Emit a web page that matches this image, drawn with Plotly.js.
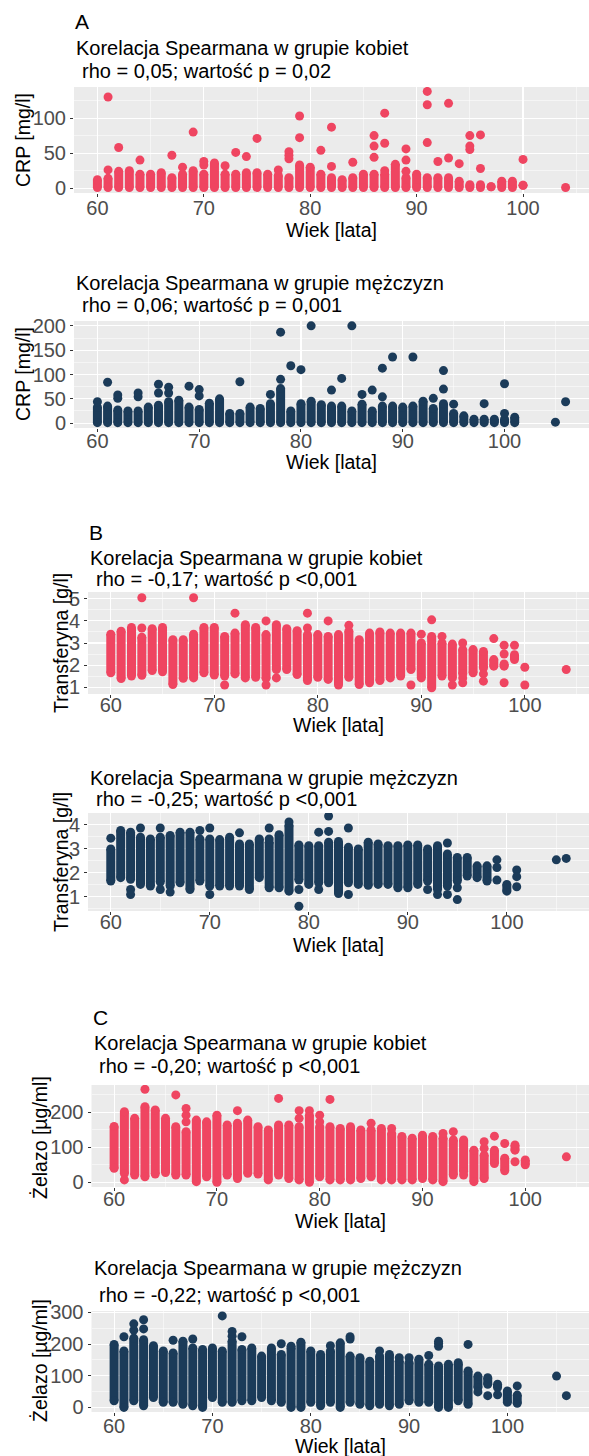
<!DOCTYPE html>
<html><head><meta charset="utf-8">
<script src="https://cdn.plot.ly/plotly-3.0.1.min.js"></script>
<style>html,body{margin:0;padding:0;background:#fff;}#chart{width:589px;height:1456px;}</style>
</head><body><div id="chart"></div>
<script>
// ---------- DATA ----------
// A: CRP [mg/l], women
const crpW_colAge = [60,61,62,63,64,65,66,67,68,69,70,71,72,73,74,75,76,77,78,79,80,81,82,83,84,85,86,87,88,89,90,91,92,93,94,95,96,97,98,99,100];
const crpW_colLo  = [1,1,1,1,1,1,1,1,1,1,1,1,1,1,1,1,1,1,1,1,1,1,1,1,1,1,1,1,1,1,1,1,1,1,1,1,1,2,1,1,4];
const crpW_colHi  = [12,14,24,25,20,20,22,15,20,25,20,36,20,20,22,22,20,18,15,33,30,20,15,12,15,20,20,20,34,15,20,15,15,15,10,5,5,2,10,10,4];
const crpW_ptAge  = [61,61,62,64,67,68,69,70,70,72,73,74,75,77,78,78,78,79,79,81,82,82,84,86,86,86,87,87,87,89,89,89,91,91,91,92,93,93,94,95,95,95,96,96,100,104];
const crpW_ptVal  = [26,130,58,40,47,30,80,33,38,32,51,45,71,26,42,47,52,72,103,54,31,87,37,44,60,75,25,64,107,24,40,56,65,119,138,38,43,121,35,55,60,75,28,76,41,1];
// A: CRP [mg/l], men
const crpM_colAge = [60,61,62,63,64,65,66,67,68,69,70,71,72,73,74,75,76,77,78,79,80,81,82,83,84,85,86,87,88,89,90,91,92,93,94,95,96,97,98,99,100,101];
const crpM_colLo  = [1,1,1,1,1,1,1,1,1,1,1,1,1,1,1,1,1,1,1,1,1,1,1,1,1,1,1,1,1,1,1,1,1,1,1,1,1,1,1,1,1,1];
const crpM_colHi  = [33,35,27,25,25,33,37,44,47,33,28,41,50,20,20,33,30,40,71,25,40,45,38,35,35,25,39,25,35,35,33,35,45,30,40,20,15,8,8,8,8,12];
const crpM_ptAge  = [60,61,62,62,64,64,66,66,67,67,69,70,70,74,77,78,78,79,80,81,83,84,85,86,87,88,88,89,91,93,94,94,95,98,100,100,105,106];
const crpM_ptVal  = [44,84,51,58,54,62,62,80,62,74,76,56,69,85,59,90,187,118,110,200,68,92,200,59,68,54,113,136,136,51,70,108,39,40,20,81,2,44];
// B: Transferyna [g/l], women
const trfW_colAge = [60,61,62,63,64,65,66,67,68,69,70,71,72,73,74,75,76,77,78,79,80,81,82,83,84,85,86,87,88,89,90,91,92,93,94,95,96,97,98,99];
const trfW_colLo  = [1.65,1.39,1.5,1.54,1.75,1.7,1.12,1.4,1.42,1.65,1.55,1.5,1.6,1.42,1.45,1.4,1.8,1.8,1.57,1.3,1.45,1.35,1.1,1.45,1.12,1.2,1.3,1.42,1.5,1.8,1.42,0.97,1.5,1.42,1.6,1.65,1.87,1.95,1.95,2.25];
const trfW_colHi  = [3.4,3.53,3.7,3.26,3.65,3.7,3.15,3.15,3.4,3.7,3.7,3.3,3.45,3.83,3.7,3.38,3.83,3.65,3.56,3.38,3.38,3.3,3.38,3.53,3.15,3.45,3.45,3.45,3.45,3.45,3.0,3.3,3.0,2.95,2.7,2.7,2.62,2.25,2.05,2.47];
const trfW_ptAge  = [63,63,68,71,72,75,75,76,79,79,81,83,86,89,90,91,92,93,94,94,94,96,96,97,98,98,98,99,100,100,104];
const trfW_ptVal  = [3.68,5.05,5.05,1.1,4.35,4.0,1.1,1.42,3.68,4.35,4.0,3.8,3.5,1.1,3.4,4.05,3.3,1.1,3.0,1.42,1.2,1.6,1.27,3.2,2.9,2.5,1.2,2.9,1.9,1.1,1.8];
// B: Transferyna [g/l], men
const trfM_colAge = [60,61,62,63,64,65,66,67,68,69,70,71,72,73,74,75,76,77,78,79,80,81,82,83,84,85,86,87,88,89,90,91,92,93,94,95,96,97,98,100];
const trfM_colLo  = [1.66,1.8,1.73,1.52,1.45,1.62,1.45,1.59,1.31,1.66,1.45,1.45,1.45,1.45,1.31,1.8,1.38,1.38,1.24,1.7,1.52,1.59,1.59,1.14,1.59,1.52,1.48,1.52,1.52,1.38,1.38,1.52,1.66,1.31,1.45,1.66,1.87,1.8,1.66,1.24];
const trfM_colHi  = [2.99,3.76,3.69,3.48,3.41,3.48,3.55,3.69,3.69,3.41,3.41,3.38,3.48,3.2,3.2,3.41,3.27,3.58,3.97,3.16,3.13,3.13,3.27,3.3,3.06,2.99,3.27,3.2,3.13,3.13,3.16,3.16,2.99,3.13,2.78,2.64,2.64,2.29,2.29,1.52];
const trfM_ptAge  = [60,62,62,63,65,65,66,69,70,70,73,76,76,78,79,79,81,81,82,82,84,84,92,93,94,94,95,95,99,99,99,101,101,101,105,106];
const trfM_ptVal  = [3.44,1.31,1.1,3.86,3.86,1.31,1.2,3.76,3.86,1.1,3.66,3.86,3.41,4.11,1.31,0.61,3.69,1.31,3.72,4.36,3.86,1.1,1.31,1.1,3.24,1.1,1.38,0.89,2.54,2.22,1.7,2.12,1.84,1.42,2.54,2.6];
// C: Żelazo [µg/ml], women
const feW_colAge = [60,61,62,63,64,65,66,67,68,69,70,71,72,73,74,75,76,77,78,79,80,81,82,83,84,85,86,87,88,89,90,91,92,93,94,95,96,97,98,99,100];
const feW_colLo  = [40,25,21,16,24,28,21,21,2,16,0,21,11,26,24,7,21,11,7,0,16,7,7,7,11,16,7,7,7,7,11,7,2,21,31,2,11,54,33,92,50];
const feW_colHi  = [160,202,183,216,207,183,159,145,178,173,192,164,169,178,159,150,164,164,159,192,159,159,154,159,150,150,154,140,131,126,135,131,126,121,121,92,78,92,69,107,64];
const feW_ptAge  = [61,63,66,67,67,67,72,76,78,78,79,80,80,81,85,87,92,93,94,96,96,97,98,99,104];
const feW_ptVal  = [7,266,250,173,192,211,205,240,183,205,205,173,192,237,169,154,140,145,21,97,116,132,111,59,73];
// C: Żelazo [µg/ml], men
const feM_colAge = [60,61,62,63,64,65,66,67,68,69,70,71,72,73,74,75,76,77,78,79,80,81,82,83,84,85,86,87,88,89,90,91,92,93,94,95,96,97,98,99,100,101];
const feM_colLo  = [21,0,21,5,31,16,16,10,5,0,31,16,16,21,21,31,21,16,0,0,16,5,16,0,16,10,5,10,5,10,21,16,16,0,0,21,10,63,73,63,16,13];
const feM_colHi  = [199,178,219,214,195,178,172,209,188,183,188,178,209,183,188,162,188,167,188,206,178,167,178,204,162,157,146,162,167,146,141,152,136,131,136,136,115,99,94,73,52,39];
const feM_ptAge  = [61,62,62,63,63,66,68,71,72,72,73,77,78,82,84,84,87,89,90,92,93,93,93,95,96,97,98,99,101,105,106];
const feM_ptVal  = [223,244,264,248,277,212,216,289,225,240,223,201,193,195,216,223,178,157,157,164,193,202,209,141,199,49,37,40,68,99,37];

const xTicks = [60,70,80,90,100];
const xMinor = [65,75,85,95,105];

// ---------- LAYOUT HELPERS ----------
const W = 589, H = 1456;
const FONT = "Liberation Sans, Arial, Helvetica, sans-serif";
const PINK = '#ef4561', NAVY = '#1b3b59';
const MS = 9;

const panels = [
  {cA:crpW_colAge,cL:crpW_colLo,cH:crpW_colHi,pA:crpW_ptAge,pV:crpW_ptVal,col:PINK,so:-6,
   left:74,top:87,bot:193,xr:[57.8,106.2],yr:[-6.9,144.3],yt:[0,50,100],ym:[25,75,125]},
  {cA:crpM_colAge,cL:crpM_colLo,cH:crpM_colHi,pA:crpM_ptAge,pV:crpM_ptVal,col:NAVY,so:-8,
   left:74,top:321,bot:428,xr:[57.7,108.3],yr:[-10,210],yt:[0,50,100,150,200],ym:[25,75,125,175]},
  {cA:trfW_colAge,cL:trfW_colLo,cH:trfW_colHi,pA:trfW_ptAge,pV:trfW_ptVal,col:PINK,so:-10,
   left:88,top:592,bot:694,xr:[57.8,106.2],yr:[0.69,5.31],yt:[1,2,3,4,5],ym:[1.5,2.5,3.5,4.5]},
  {cA:trfM_colAge,cL:trfM_colLo,cH:trfM_colHi,pA:trfM_ptAge,pV:trfM_ptVal,col:NAVY,so:-10,
   left:88,top:813,bot:911,xr:[57.7,108.3],yr:[0.415,4.485],yt:[1,2,3,4],ym:[0.5,1.5,2.5,3.5]},
  {cA:feW_colAge,cL:feW_colLo,cH:feW_colHi,pA:feW_ptAge,pV:feW_ptVal,col:PINK,so:-9,
   left:91.5,top:1085,bot:1187,xr:[57.8,106.2],yr:[-13.25,278.25],yt:[0,100,200],ym:[50,150,250]},
  {cA:feM_colAge,cL:feM_colLo,cH:feM_colHi,pA:feM_ptAge,pV:feM_ptVal,col:NAVY,so:-7,
   left:91.5,top:1311,bot:1412,xr:[57.7,108.3],yr:[-14.5,304.5],yt:[0,100,200,300],ym:[50,150,250]}
];

const traces = [];
const layout = {
  width: W, height: H, margin:{l:0,r:0,t:0,b:0},
  paper_bgcolor:'#ffffff', plot_bgcolor:'#ebebeb', showlegend:false,
  font:{family:FONT, color:'#000'}, annotations:[]
};

panels.forEach((p, i) => {
  const n = i + 1;
  const xa = n === 1 ? 'x' : 'x' + n, ya = n === 1 ? 'y' : 'y' + n;
  const xs = [], ys = [];
  p.cA.forEach((a, k) => { xs.push(a, a, null); ys.push(p.cL[k], p.cH[k], null); });
  traces.push({type:'scatter', mode:'lines+markers', x:xs, y:ys, xaxis:xa, yaxis:ya,
    line:{color:p.col, width:MS}, marker:{color:p.col, size:MS}, hoverinfo:'skip', connectgaps:false});
  traces.push({type:'scatter', mode:'markers', x:p.pA, y:p.pV, xaxis:xa, yaxis:ya,
    marker:{color:p.col, size:MS}, hoverinfo:'skip'});
  const common = {ticks:'outside', ticklen:3, tickwidth:1, tickcolor:'#333',
    tickfont:{family:FONT, size:20, color:'#4d4d4d'}, showgrid:true, gridcolor:'#ffffff', gridwidth:1.1,
    zeroline:false, showline:false, fixedrange:true};
  layout['xaxis' + (n === 1 ? '' : n)] = Object.assign({}, common, {
    domain:[p.left / W, 1], range:p.xr, tickvals:xTicks, ticktext:xTicks.map(String), anchor:ya,
    ticklabelstandoff:p.so,
    minor:{tickvals:xMinor, showgrid:true, gridcolor:'#ffffff', gridwidth:0.5, ticks:''}});
  layout['yaxis' + (n === 1 ? '' : n)] = Object.assign({}, common, {
    domain:[1 - p.bot / H, 1 - p.top / H], range:p.yr, tickvals:p.yt, ticktext:p.yt.map(String), anchor:xa,
    minor:{tickvals:p.ym, showgrid:true, gridcolor:'#ffffff', gridwidth:0.5, ticks:''}});
});

function ann(text, xpx, ypx, size, extra) {
  layout.annotations.push(Object.assign({text:text, xref:'paper', yref:'paper', x:xpx / W, y:1 - ypx / H,
    xanchor:'left', yanchor:'middle', showarrow:false, font:{family:FONT, size:size, color:'#000'}}, extra || {}));
}
const T1W = 'Korelacja Spearmana w grupie kobiet', T1M = 'Korelacja Spearmana w grupie mężczyzn';
// panel letters
ann('A', 73, 22, 21); ann('B', 87, 532, 21); ann('C', 90.5, 1017, 21);
// titles
ann(T1W, 74, 48.5, 20); ann('rho = 0,05; wartość p = 0,02', 79.5, 71, 20);
ann(T1M, 74, 283, 20); ann('rho = 0,06; wartość p = 0,001', 79.5, 305, 20);
ann(T1W, 88, 558, 20); ann('rho = -0,17; wartość p <0,001', 93.5, 579, 20);
ann(T1M, 88, 778, 20); ann('rho = -0,25; wartość p <0,001', 93.5, 799, 20);
ann(T1W, 91.5, 1043, 20); ann('rho = -0,20; wartość p <0,001', 97, 1066, 20);
ann(T1M, 91.5, 1268, 20); ann('rho = -0,22; wartość p <0,001', 97, 1294.5, 20);
// x axis titles
const xt = {xanchor:'center'};
ann('Wiek [lata]', 331.5, 230, 19.5, xt); ann('Wiek [lata]', 331.5, 462, 19.5, xt);
ann('Wiek [lata]', 338.5, 725, 19.5, xt); ann('Wiek [lata]', 338.5, 945, 19.5, xt);
ann('Wiek [lata]', 340, 1221, 19.5, xt); ann('Wiek [lata]', 340, 1446, 19.5, xt);
// y axis titles
const yt = {xanchor:'center', textangle:-90};
ann('CRP [mg/l]', 23, 140, 19.5, yt); ann('CRP [mg/l]', 23, 374, 19.5, yt);
ann('Transferyna [g/l]', 61, 643, 19.5, yt); ann('Transferyna [g/l]', 61, 862, 19.5, yt);
ann('Żelazo [µg/ml]', 40, 1138, 19.5, yt); ann('Żelazo [µg/ml]', 40, 1361, 19.5, yt);

Plotly.newPlot('chart', traces, layout, {staticPlot:true, displayModeBar:false});
</script></body></html>
